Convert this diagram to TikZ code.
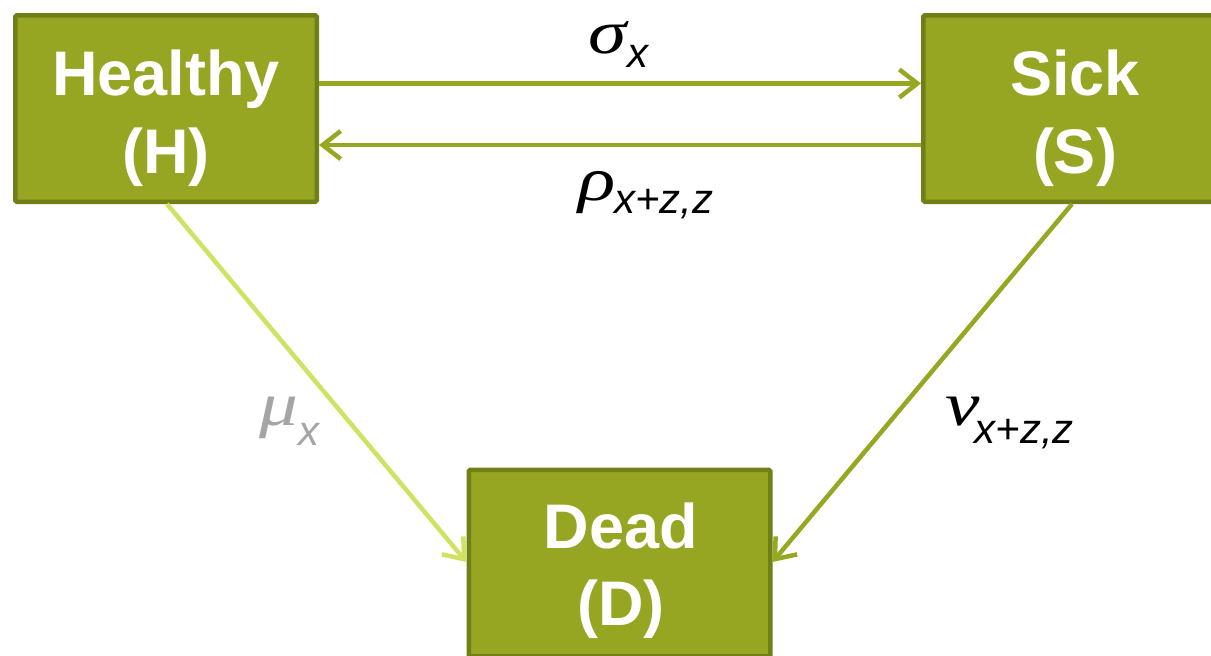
\documentclass[tikz,border=0pt]{standalone}
\usepackage{fontspec}
\usepackage{graphicx}
\setmainfont{Liberation Sans}
\newfontfamily\gkfont{Liberation Serif}
\usetikzlibrary{arrows.meta}
\definecolor{boxfill}{RGB}{150,166,34}
\definecolor{boxline}{RGB}{112,128,22}
\definecolor{arrdark}{RGB}{150,168,34}
\definecolor{arrlight}{RGB}{208,226,100}
\definecolor{lblgray}{RGB}{165,165,165}
% #1 greek letter, #2 subscript, #3 lowering of subscript, #4 kern before subscript
\newcommand\ratelbl[4]{\scalebox{1.25}[1]{\gkfont\itshape\fontsize{62}{64}\selectfont #1}\kern#4\raisebox{#3}{\fontsize{42}{44}\selectfont\itshape #2}}
\begin{document}
\begin{tikzpicture}[x=1pt,y=-1pt,
  statebox/.style={draw=boxline,fill=boxfill,line width=4.5pt,rounded corners=1.5pt,
    minimum width=301.5pt,minimum height=186.5pt,inner sep=0pt},
  boxtext/.style={text=white,font={\fontsize{63}{75}\selectfont\bfseries},anchor=base,inner sep=0pt},
  conn/.style={line width=4.5pt,-{Straight Barb[length=18pt,width=28pt,line width=4.5pt]}},
  rate/.style={anchor=base west,inner sep=0pt}]
\useasboundingbox (0,0) rectangle (1211,656);
\clip (0,0) rectangle (1211,656);
\node[statebox] (H) at (166,108.5) {};
\node[statebox] (S) at (1074,108.5) {};
\node[statebox] (D) at (619.5,563) {};
\node[boxtext] (h1) at (166,95) {Healthy};
\node[boxtext] (h2) at (166,173) {(H)};
\node[boxtext] (s1) at (1075,95) {Sick};
\node[boxtext] (s2) at (1075,173) {(S)};
\node[boxtext] (d1) at (621,548) {Dead};
\node[boxtext] (d2) at (621,625) {(D)};
\draw[conn,arrdark] ([yshift=25pt]H.east) -- ([yshift=25pt]S.west);
\draw[conn,arrdark] ([yshift=-36.5pt]S.west) -- ([yshift=-36.5pt]H.east);
\draw[conn,arrlight] ([xshift=1pt]H.south) -- ([yshift=1pt]D.west);
\draw[conn,arrdark] ([xshift=-2pt]S.south) -- ([yshift=1pt]D.east);
\node[rate] (sig) at (588,53) {\ratelbl{σ}{x}{-14pt}{1pt}};
\node[rate] (rho) at (578,200) {\ratelbl{ρ}{x+z,z}{-13pt}{-1pt}};
\node[rate,text=lblgray] (mu) at (259,425) {\ratelbl{μ}{x}{-20pt}{0pt}};
\node[rate] (nu) at (945,425) {\ratelbl{ν}{x+z,z}{-18pt}{-5pt}};
\end{tikzpicture}
\end{document}
